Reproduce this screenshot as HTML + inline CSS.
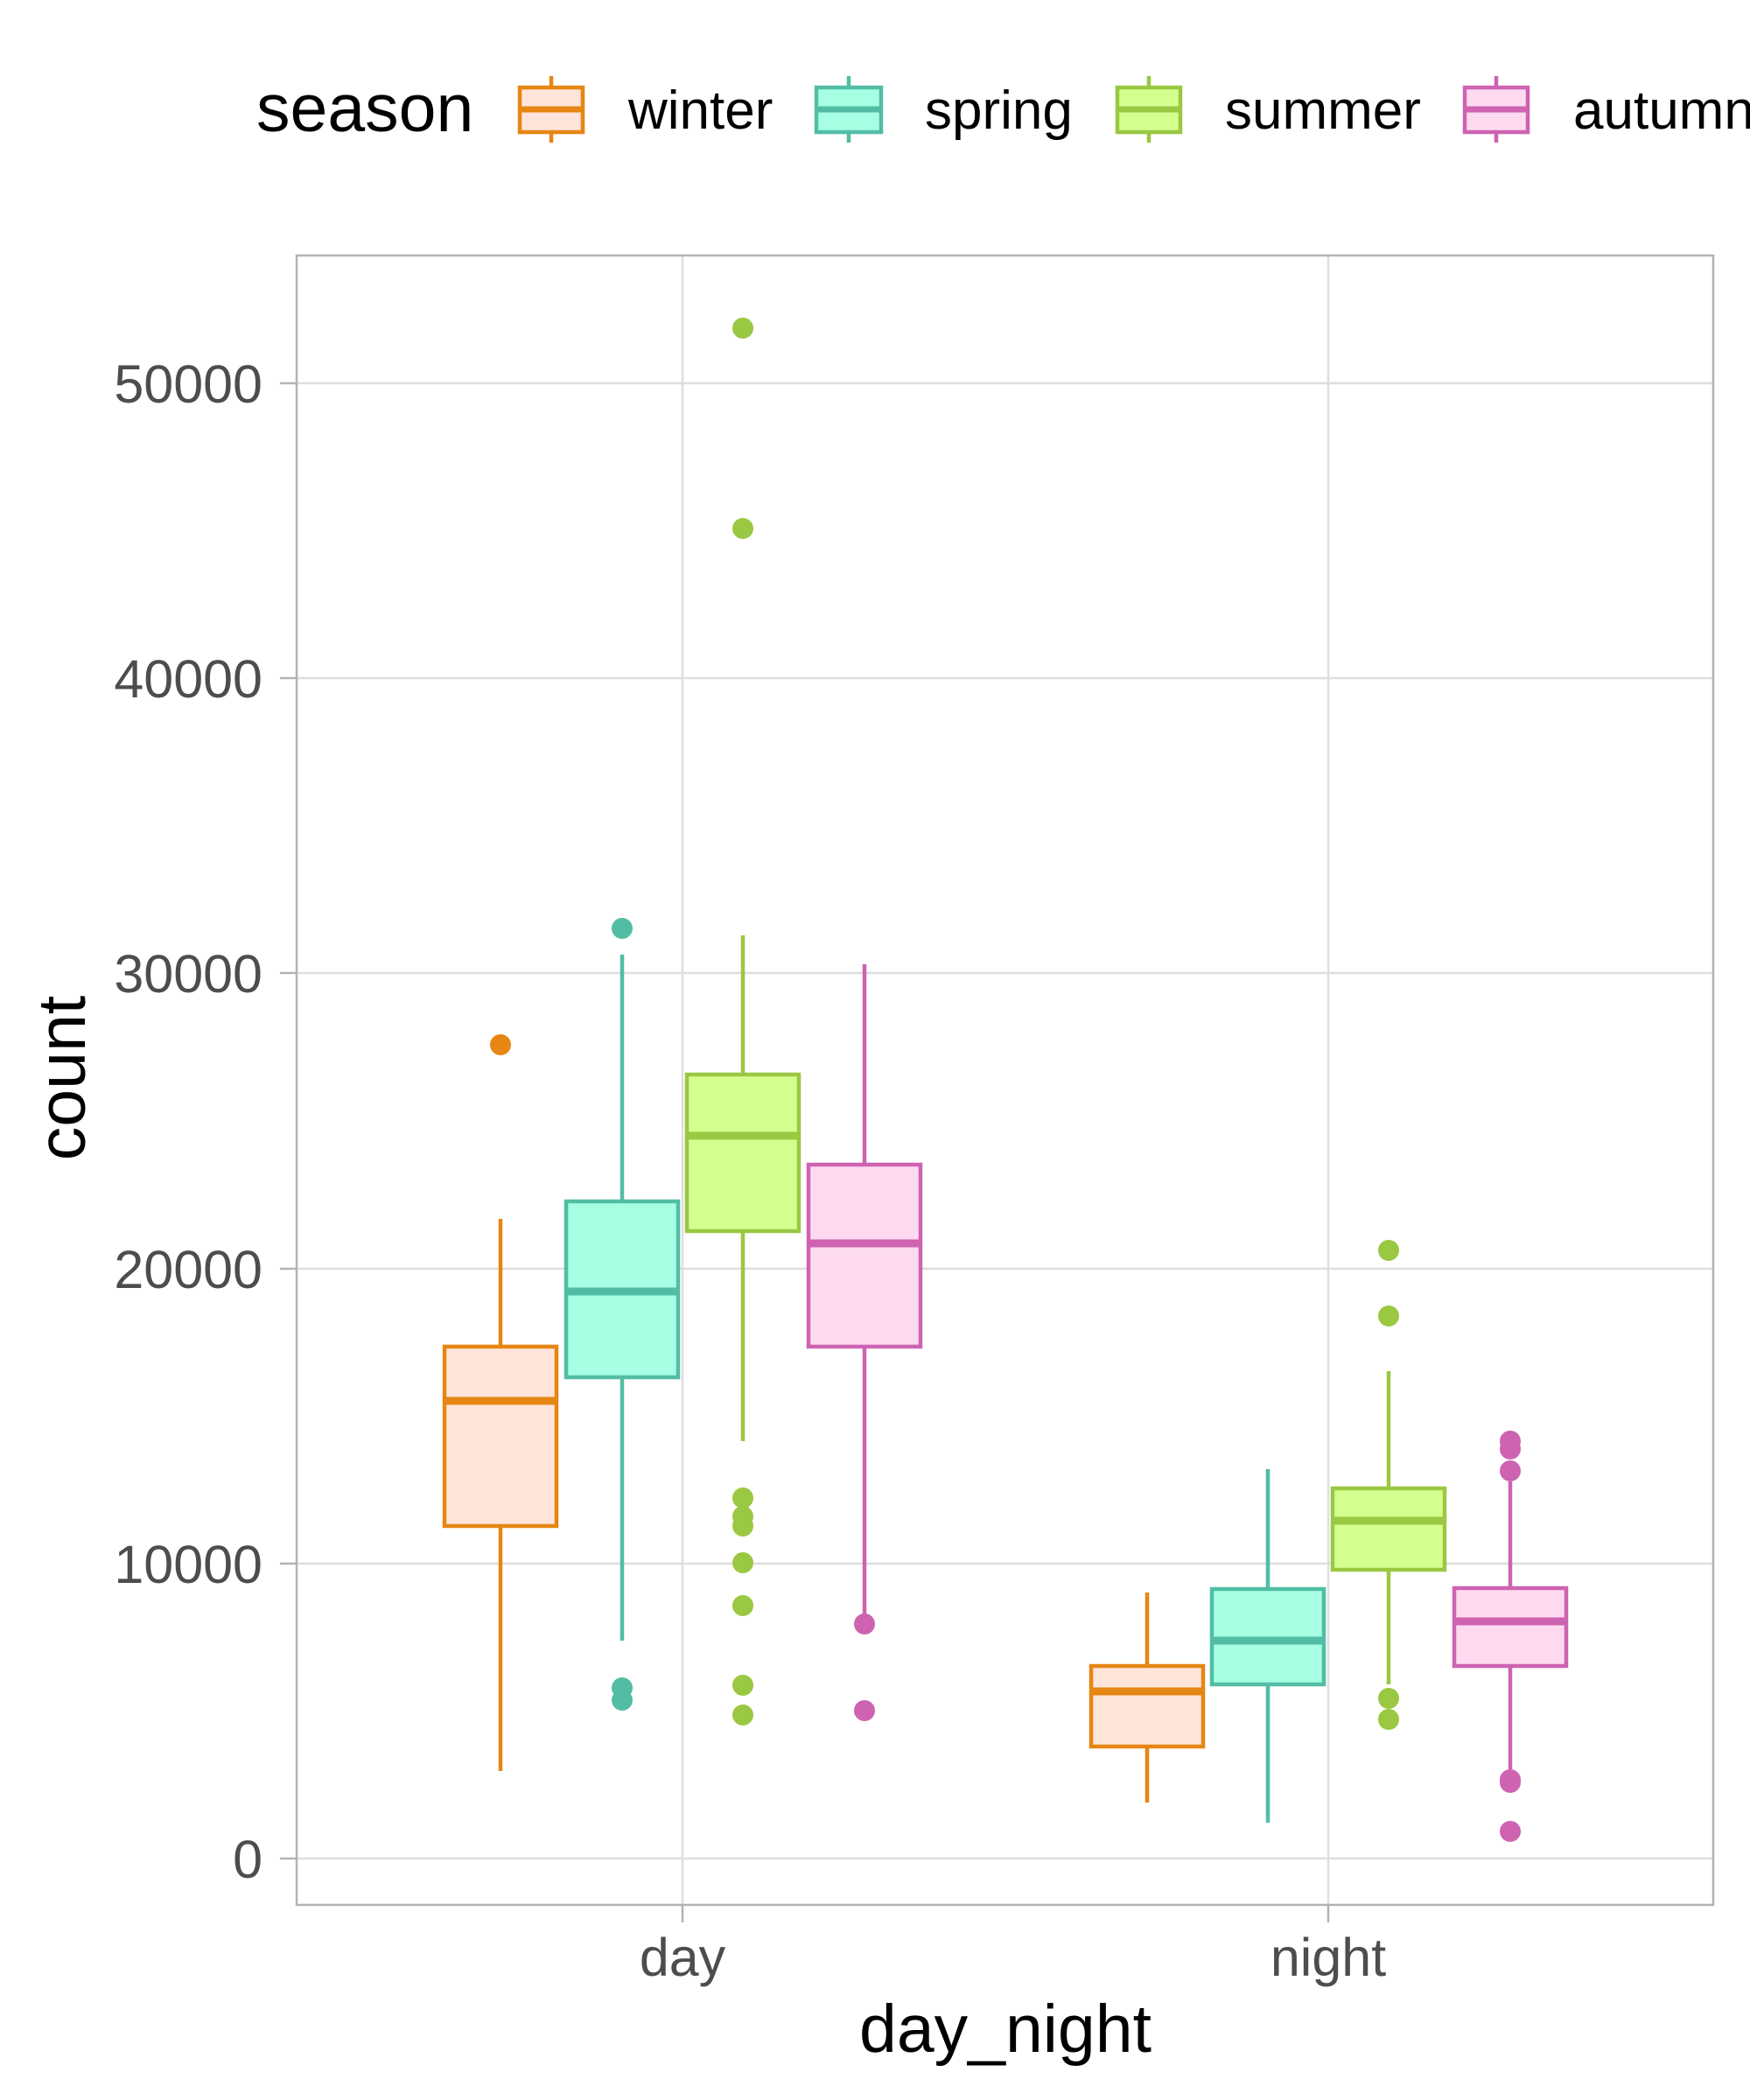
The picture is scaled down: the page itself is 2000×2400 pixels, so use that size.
<!DOCTYPE html>
<html><head><meta charset="utf-8"><style>
html,body{margin:0;padding:0;background:#fff;}
svg{display:block;}
text{font-family:"Liberation Sans",Arial,sans-serif;}
</style></head><body>
<svg width="2000" height="2400" viewBox="0 0 2000 2400" xmlns="http://www.w3.org/2000/svg">
<rect width="2000" height="2400" fill="#fff"/>
<!-- legend -->
<text x="293" y="150" font-size="77" fill="#000">season</text>
<g stroke-width="4.5">
 <line x1="630" y1="87" x2="630" y2="163" stroke="#E68613"/>
 <rect x="594" y="100" width="72" height="51" fill="#FFE4DA" stroke="#E68613"/>
 <line x1="594" y1="125" x2="666" y2="125" stroke="#E68613" stroke-width="7"/>
 <line x1="970" y1="87" x2="970" y2="163" stroke="#52BDA4"/>
 <rect x="933" y="100" width="74" height="51" fill="#A6FFE3" stroke="#52BDA4"/>
 <line x1="933" y1="125" x2="1007" y2="125" stroke="#52BDA4" stroke-width="7"/>
 <line x1="1313" y1="87" x2="1313" y2="163" stroke="#9AC843"/>
 <rect x="1277" y="100" width="72" height="51" fill="#D4FF8F" stroke="#9AC843"/>
 <line x1="1277" y1="125" x2="1349" y2="125" stroke="#9AC843" stroke-width="7"/>
 <line x1="1710" y1="87" x2="1710" y2="163" stroke="#CD63B1"/>
 <rect x="1674" y="100" width="72" height="51" fill="#FEDAF0" stroke="#CD63B1"/>
 <line x1="1674" y1="125" x2="1746" y2="125" stroke="#CD63B1" stroke-width="7"/>
</g>
<g font-size="62" fill="#000">
 <text x="718" y="147">winter</text>
 <text x="1057" y="147">spring</text>
 <text x="1400" y="147">summer</text>
 <text x="1798" y="147">autumn</text>
</g>
<!-- grid -->
<g stroke="#DEDEDE" stroke-width="2.5">
 <line x1="339" x2="1958" y1="2124" y2="2124"/>
 <line x1="339" x2="1958" y1="1787" y2="1787"/>
 <line x1="339" x2="1958" y1="1450" y2="1450"/>
 <line x1="339" x2="1958" y1="1112" y2="1112"/>
 <line x1="339" x2="1958" y1="775" y2="775"/>
 <line x1="339" x2="1958" y1="438" y2="438"/>
 <line x1="780" x2="780" y1="292" y2="2177"/>
 <line x1="1518" x2="1518" y1="292" y2="2177"/>
</g>
<g stroke="#B3B3B3" stroke-width="2.5">
 <line x1="320" x2="339" y1="2124" y2="2124"/>
 <line x1="320" x2="339" y1="1787" y2="1787"/>
 <line x1="320" x2="339" y1="1450" y2="1450"/>
 <line x1="320" x2="339" y1="1112" y2="1112"/>
 <line x1="320" x2="339" y1="775" y2="775"/>
 <line x1="320" x2="339" y1="438" y2="438"/>
 <line x1="780" x2="780" y1="2177" y2="2197"/>
 <line x1="1518" x2="1518" y1="2177" y2="2197"/>
</g>
<g font-size="61" fill="#4D4D4D" text-anchor="end">
 <text x="300" y="2146">0</text>
 <text x="300" y="1809">10000</text>
 <text x="300" y="1472">20000</text>
 <text x="300" y="1134">30000</text>
 <text x="300" y="797">40000</text>
 <text x="300" y="460">50000</text>
</g>
<g font-size="61" fill="#4D4D4D" text-anchor="middle">
 <text x="780" y="2258">day</text>
 <text x="1518" y="2258">night</text>
</g>
<text x="1149" y="2345" font-size="77" text-anchor="middle" fill="#000">day_night</text>
<text transform="translate(97,1232) rotate(-90)" font-size="77" text-anchor="middle" fill="#000">count</text>

<g stroke-width="4.5">
<g stroke="#E68613" fill="#E68613">
 <line x1="572" x2="572" y1="1393" y2="2024"/>
 <rect x="508" y="1539" width="128" height="205" fill="#FFE4DA"/>
 <line x1="508" x2="636" y1="1601" y2="1601" stroke-width="9"/>
 <circle cx="572" cy="1194" r="12" stroke="none"/>
</g>
<g stroke="#52BDA4" fill="#52BDA4">
 <line x1="711" x2="711" y1="1091" y2="1875"/>
 <rect x="647" y="1373" width="128" height="201" fill="#A6FFE3"/>
 <line x1="647" x2="775" y1="1476" y2="1476" stroke-width="9"/>
 <g stroke="none"><circle cx="711" cy="1061" r="12"/><circle cx="711" cy="1929" r="12"/><circle cx="711" cy="1943" r="12"/></g>
</g>
<g stroke="#9AC843" fill="#9AC843">
 <line x1="849" x2="849" y1="1069" y2="1647"/>
 <rect x="785" y="1228" width="128" height="179" fill="#D4FF8F"/>
 <line x1="785" x2="913" y1="1298" y2="1298" stroke-width="9"/>
 <g stroke="none">
  <circle cx="849" cy="375" r="12"/><circle cx="849" cy="604" r="12"/>
  <circle cx="849" cy="1712" r="12"/><circle cx="849" cy="1733" r="12"/><circle cx="849" cy="1744" r="12"/>
  <circle cx="849" cy="1786" r="12"/><circle cx="849" cy="1835" r="12"/><circle cx="849" cy="1926" r="12"/><circle cx="849" cy="1960" r="12"/>
 </g>
</g>
<g stroke="#CD63B1" fill="#CD63B1">
 <line x1="988" x2="988" y1="1102" y2="1845"/>
 <rect x="924" y="1331" width="128" height="208" fill="#FEDAF0"/>
 <line x1="924" x2="1052" y1="1421" y2="1421" stroke-width="9"/>
 <g stroke="none"><circle cx="988" cy="1856" r="12"/><circle cx="988" cy="1955" r="12"/></g>
</g>
<g stroke="#E68613" fill="#E68613">
 <line x1="1311" x2="1311" y1="1820" y2="2060"/>
 <rect x="1247" y="1904" width="128" height="92" fill="#FFE4DA"/>
 <line x1="1247" x2="1375" y1="1933" y2="1933" stroke-width="9"/>
</g>
<g stroke="#52BDA4" fill="#52BDA4">
 <line x1="1449" x2="1449" y1="1679" y2="2083"/>
 <rect x="1385" y="1816" width="128" height="109" fill="#A6FFE3"/>
 <line x1="1385" x2="1513" y1="1875" y2="1875" stroke-width="9"/>
</g>
<g stroke="#9AC843" fill="#9AC843">
 <line x1="1587" x2="1587" y1="1567" y2="1925"/>
 <rect x="1523" y="1701" width="128" height="93" fill="#D4FF8F"/>
 <line x1="1523" x2="1651" y1="1738" y2="1738" stroke-width="9"/>
 <g stroke="none"><circle cx="1587" cy="1429" r="12"/><circle cx="1587" cy="1504" r="12"/><circle cx="1587" cy="1941" r="12"/><circle cx="1587" cy="1965" r="12"/></g>
</g>
<g stroke="#CD63B1" fill="#CD63B1">
 <line x1="1726" x2="1726" y1="1693" y2="2022"/>
 <rect x="1662" y="1815" width="128" height="89" fill="#FEDAF0"/>
 <line x1="1662" x2="1790" y1="1853" y2="1853" stroke-width="9"/>
 <g stroke="none"><circle cx="1726" cy="1647" r="12"/><circle cx="1726" cy="1656" r="12"/><circle cx="1726" cy="1681" r="12"/><circle cx="1726" cy="2034" r="12"/><circle cx="1726" cy="2037" r="12"/><circle cx="1726" cy="2093" r="12"/></g>
</g>
</g>
<rect x="339" y="292" width="1619" height="1885" fill="none" stroke="#B3B3B3" stroke-width="2.5"/>
</svg>
</body></html>
